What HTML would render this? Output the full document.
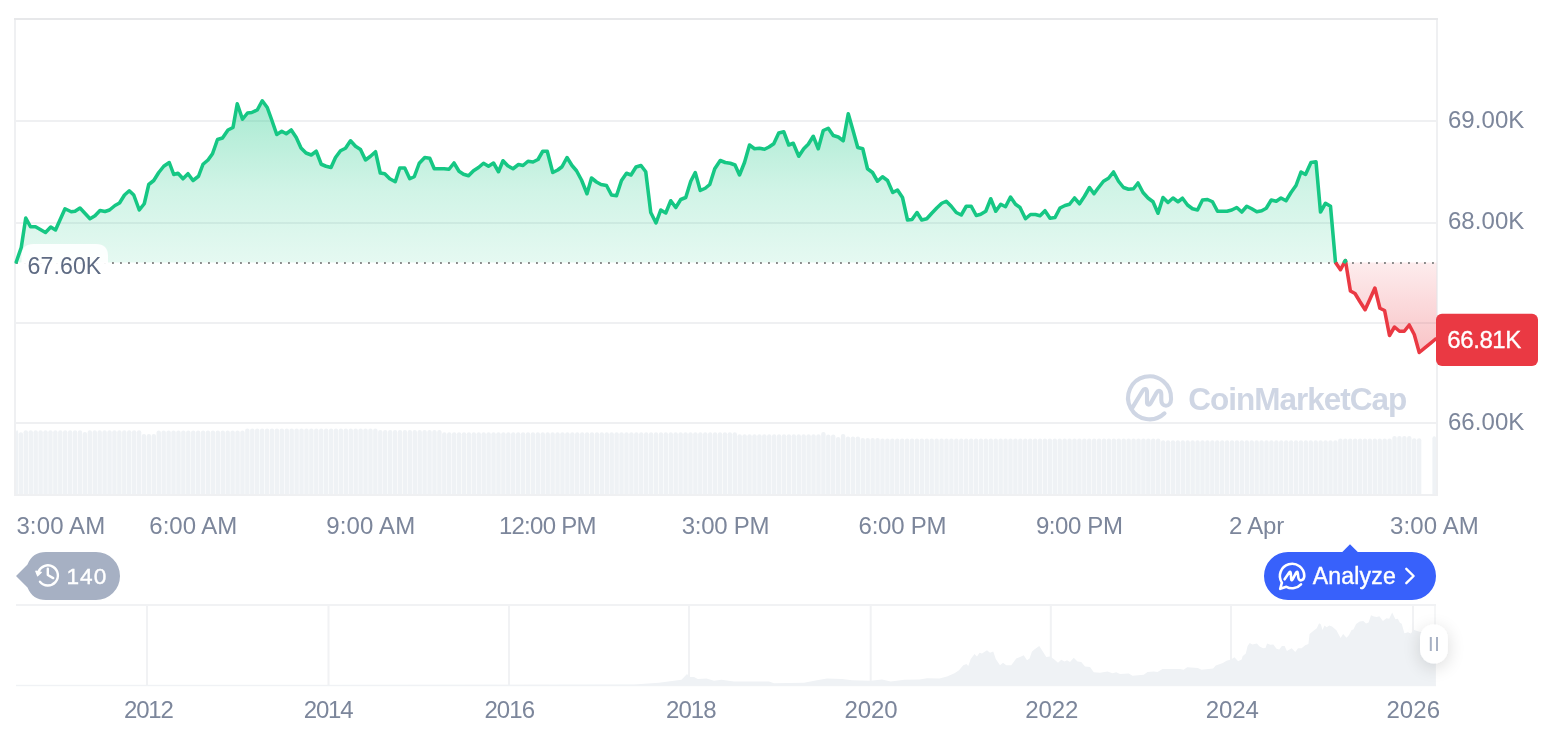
<!DOCTYPE html>
<html lang="en"><head><meta charset="utf-8"><title>BTC price chart</title>
<style>
html,body{margin:0;padding:0;background:#fff;}
body{width:1566px;height:732px;overflow:hidden;position:relative;font-family:"Liberation Sans",Arial,sans-serif;}
svg{position:absolute;left:0;top:0;display:block}
</style></head><body>
<svg width="1566" height="732" viewBox="0 0 1566 732" font-family="Liberation Sans, Arial, sans-serif">
<defs>
<linearGradient id="gg" gradientUnits="userSpaceOnUse" x1="0" y1="100" x2="0" y2="262.5">
<stop offset="0" stop-color="#16C784" stop-opacity="0.375"/><stop offset="0.178" stop-color="#16C784" stop-opacity="0.318"/><stop offset="0.554" stop-color="#16C784" stop-opacity="0.20"/><stop offset="0.911" stop-color="#16C784" stop-opacity="0.129"/><stop offset="1" stop-color="#16C784" stop-opacity="0.112"/></linearGradient>
<linearGradient id="rg" gradientUnits="userSpaceOnUse" x1="0" y1="262.5" x2="0" y2="353">
<stop offset="0" stop-color="#EA3943" stop-opacity="0.095"/><stop offset="1" stop-color="#EA3943" stop-opacity="0.304"/></linearGradient>
<filter id="sh" x="-100%" y="-60%" width="300%" height="220%"><feGaussianBlur in="SourceAlpha" stdDeviation="9"/><feOffset dy="4"/><feComponentTransfer><feFuncA type="linear" slope="0.15"/></feComponentTransfer><feMerge><feMergeNode/><feMergeNode in="SourceGraphic"/></feMerge></filter>
</defs>
<!-- grid -->
<g fill="#EFF0F2">
<rect x="14" y="120" width="1424" height="2"/>
<rect x="14" y="222" width="1424" height="2"/>
<rect x="14" y="322" width="1424" height="2"/>
<rect x="14" y="422" width="1424" height="2"/>
<rect x="14" y="18" width="2" height="478"/>
<rect x="1436" y="18" width="2" height="478"/>
<rect x="14" y="494" width="1424" height="2"/>
</g>
<rect x="14" y="18" width="1424" height="2" fill="#E7E8EA"/>
<!-- volume -->
<g fill="#EFF2F5">
<path d="M16.00 494 V432.30 a1.09 2 0 0 1 1.09 -2 h0.00 a1.09 2 0 0 1 1.09 2 V494 Z"/>
<path d="M18.70 494 V434.20 a2.20 2 0 0 1 2.20 -2 h0.00 a2.20 2 0 0 1 2.20 2 V494 Z"/>
<path d="M23.62 494 V432.30 a2.20 2 0 0 1 2.20 -2 h0.00 a2.20 2 0 0 1 2.20 2 V494 Z"/>
<path d="M28.55 494 V432.30 a2.20 2 0 0 1 2.20 -2 h0.00 a2.20 2 0 0 1 2.20 2 V494 Z"/>
<path d="M33.47 494 V432.30 a2.20 2 0 0 1 2.20 -2 h0.00 a2.20 2 0 0 1 2.20 2 V494 Z"/>
<path d="M38.39 494 V432.30 a2.20 2 0 0 1 2.20 -2 h0.00 a2.20 2 0 0 1 2.20 2 V494 Z"/>
<path d="M43.32 494 V432.30 a2.20 2 0 0 1 2.20 -2 h0.00 a2.20 2 0 0 1 2.20 2 V494 Z"/>
<path d="M48.24 494 V432.30 a2.20 2 0 0 1 2.20 -2 h0.00 a2.20 2 0 0 1 2.20 2 V494 Z"/>
<path d="M53.16 494 V432.30 a2.20 2 0 0 1 2.20 -2 h0.00 a2.20 2 0 0 1 2.20 2 V494 Z"/>
<path d="M58.09 494 V432.30 a2.20 2 0 0 1 2.20 -2 h0.00 a2.20 2 0 0 1 2.20 2 V494 Z"/>
<path d="M63.01 494 V432.30 a2.20 2 0 0 1 2.20 -2 h0.00 a2.20 2 0 0 1 2.20 2 V494 Z"/>
<path d="M67.93 494 V432.30 a2.20 2 0 0 1 2.20 -2 h0.00 a2.20 2 0 0 1 2.20 2 V494 Z"/>
<path d="M72.86 494 V432.30 a2.20 2 0 0 1 2.20 -2 h0.00 a2.20 2 0 0 1 2.20 2 V494 Z"/>
<path d="M77.78 494 V432.30 a2.20 2 0 0 1 2.20 -2 h0.00 a2.20 2 0 0 1 2.20 2 V494 Z"/>
<path d="M82.70 494 V434.00 a2.20 2 0 0 1 2.20 -2 h0.00 a2.20 2 0 0 1 2.20 2 V494 Z"/>
<path d="M87.63 494 V432.30 a2.20 2 0 0 1 2.20 -2 h0.00 a2.20 2 0 0 1 2.20 2 V494 Z"/>
<path d="M92.55 494 V432.30 a2.20 2 0 0 1 2.20 -2 h0.00 a2.20 2 0 0 1 2.20 2 V494 Z"/>
<path d="M97.47 494 V432.30 a2.20 2 0 0 1 2.20 -2 h0.00 a2.20 2 0 0 1 2.20 2 V494 Z"/>
<path d="M102.40 494 V432.30 a2.20 2 0 0 1 2.20 -2 h0.00 a2.20 2 0 0 1 2.20 2 V494 Z"/>
<path d="M107.32 494 V432.30 a2.20 2 0 0 1 2.20 -2 h0.00 a2.20 2 0 0 1 2.20 2 V494 Z"/>
<path d="M112.24 494 V432.30 a2.20 2 0 0 1 2.20 -2 h0.00 a2.20 2 0 0 1 2.20 2 V494 Z"/>
<path d="M117.17 494 V432.30 a2.20 2 0 0 1 2.20 -2 h0.00 a2.20 2 0 0 1 2.20 2 V494 Z"/>
<path d="M122.09 494 V432.30 a2.20 2 0 0 1 2.20 -2 h0.00 a2.20 2 0 0 1 2.20 2 V494 Z"/>
<path d="M127.01 494 V432.30 a2.20 2 0 0 1 2.20 -2 h0.00 a2.20 2 0 0 1 2.20 2 V494 Z"/>
<path d="M131.94 494 V432.30 a2.20 2 0 0 1 2.20 -2 h0.00 a2.20 2 0 0 1 2.20 2 V494 Z"/>
<path d="M136.86 494 V432.30 a2.20 2 0 0 1 2.20 -2 h0.00 a2.20 2 0 0 1 2.20 2 V494 Z"/>
<path d="M141.78 494 V436.00 a2.20 2 0 0 1 2.20 -2 h0.00 a2.20 2 0 0 1 2.20 2 V494 Z"/>
<path d="M146.71 494 V436.00 a2.20 2 0 0 1 2.20 -2 h0.00 a2.20 2 0 0 1 2.20 2 V494 Z"/>
<path d="M151.63 494 V436.00 a2.20 2 0 0 1 2.20 -2 h0.00 a2.20 2 0 0 1 2.20 2 V494 Z"/>
<path d="M156.55 494 V432.50 a2.20 2 0 0 1 2.20 -2 h0.00 a2.20 2 0 0 1 2.20 2 V494 Z"/>
<path d="M161.48 494 V432.50 a2.20 2 0 0 1 2.20 -2 h0.00 a2.20 2 0 0 1 2.20 2 V494 Z"/>
<path d="M166.40 494 V432.50 a2.20 2 0 0 1 2.20 -2 h0.00 a2.20 2 0 0 1 2.20 2 V494 Z"/>
<path d="M171.32 494 V432.50 a2.20 2 0 0 1 2.20 -2 h0.00 a2.20 2 0 0 1 2.20 2 V494 Z"/>
<path d="M176.25 494 V432.50 a2.20 2 0 0 1 2.20 -2 h0.00 a2.20 2 0 0 1 2.20 2 V494 Z"/>
<path d="M181.17 494 V432.50 a2.20 2 0 0 1 2.20 -2 h0.00 a2.20 2 0 0 1 2.20 2 V494 Z"/>
<path d="M186.09 494 V432.50 a2.20 2 0 0 1 2.20 -2 h0.00 a2.20 2 0 0 1 2.20 2 V494 Z"/>
<path d="M191.02 494 V432.50 a2.20 2 0 0 1 2.20 -2 h0.00 a2.20 2 0 0 1 2.20 2 V494 Z"/>
<path d="M195.94 494 V432.50 a2.20 2 0 0 1 2.20 -2 h0.00 a2.20 2 0 0 1 2.20 2 V494 Z"/>
<path d="M200.86 494 V432.50 a2.20 2 0 0 1 2.20 -2 h0.00 a2.20 2 0 0 1 2.20 2 V494 Z"/>
<path d="M205.79 494 V432.50 a2.20 2 0 0 1 2.20 -2 h0.00 a2.20 2 0 0 1 2.20 2 V494 Z"/>
<path d="M210.71 494 V432.50 a2.20 2 0 0 1 2.20 -2 h0.00 a2.20 2 0 0 1 2.20 2 V494 Z"/>
<path d="M215.63 494 V432.50 a2.20 2 0 0 1 2.20 -2 h0.00 a2.20 2 0 0 1 2.20 2 V494 Z"/>
<path d="M220.56 494 V432.50 a2.20 2 0 0 1 2.20 -2 h0.00 a2.20 2 0 0 1 2.20 2 V494 Z"/>
<path d="M225.48 494 V432.50 a2.20 2 0 0 1 2.20 -2 h0.00 a2.20 2 0 0 1 2.20 2 V494 Z"/>
<path d="M230.40 494 V432.50 a2.20 2 0 0 1 2.20 -2 h0.00 a2.20 2 0 0 1 2.20 2 V494 Z"/>
<path d="M235.33 494 V432.50 a2.20 2 0 0 1 2.20 -2 h0.00 a2.20 2 0 0 1 2.20 2 V494 Z"/>
<path d="M240.25 494 V432.50 a2.20 2 0 0 1 2.20 -2 h0.00 a2.20 2 0 0 1 2.20 2 V494 Z"/>
<path d="M245.17 494 V430.60 a2.20 2 0 0 1 2.20 -2 h0.00 a2.20 2 0 0 1 2.20 2 V494 Z"/>
<path d="M250.10 494 V430.60 a2.20 2 0 0 1 2.20 -2 h0.00 a2.20 2 0 0 1 2.20 2 V494 Z"/>
<path d="M255.02 494 V430.60 a2.20 2 0 0 1 2.20 -2 h0.00 a2.20 2 0 0 1 2.20 2 V494 Z"/>
<path d="M259.94 494 V430.60 a2.20 2 0 0 1 2.20 -2 h0.00 a2.20 2 0 0 1 2.20 2 V494 Z"/>
<path d="M264.87 494 V430.60 a2.20 2 0 0 1 2.20 -2 h0.00 a2.20 2 0 0 1 2.20 2 V494 Z"/>
<path d="M269.79 494 V430.60 a2.20 2 0 0 1 2.20 -2 h0.00 a2.20 2 0 0 1 2.20 2 V494 Z"/>
<path d="M274.71 494 V430.60 a2.20 2 0 0 1 2.20 -2 h0.00 a2.20 2 0 0 1 2.20 2 V494 Z"/>
<path d="M279.63 494 V430.60 a2.20 2 0 0 1 2.20 -2 h0.00 a2.20 2 0 0 1 2.20 2 V494 Z"/>
<path d="M284.56 494 V430.60 a2.20 2 0 0 1 2.20 -2 h0.00 a2.20 2 0 0 1 2.20 2 V494 Z"/>
<path d="M289.48 494 V430.60 a2.20 2 0 0 1 2.20 -2 h0.00 a2.20 2 0 0 1 2.20 2 V494 Z"/>
<path d="M294.40 494 V430.60 a2.20 2 0 0 1 2.20 -2 h0.00 a2.20 2 0 0 1 2.20 2 V494 Z"/>
<path d="M299.33 494 V430.60 a2.20 2 0 0 1 2.20 -2 h0.00 a2.20 2 0 0 1 2.20 2 V494 Z"/>
<path d="M304.25 494 V430.60 a2.20 2 0 0 1 2.20 -2 h0.00 a2.20 2 0 0 1 2.20 2 V494 Z"/>
<path d="M309.17 494 V430.60 a2.20 2 0 0 1 2.20 -2 h0.00 a2.20 2 0 0 1 2.20 2 V494 Z"/>
<path d="M314.10 494 V430.60 a2.20 2 0 0 1 2.20 -2 h0.00 a2.20 2 0 0 1 2.20 2 V494 Z"/>
<path d="M319.02 494 V430.60 a2.20 2 0 0 1 2.20 -2 h0.00 a2.20 2 0 0 1 2.20 2 V494 Z"/>
<path d="M323.94 494 V430.60 a2.20 2 0 0 1 2.20 -2 h0.00 a2.20 2 0 0 1 2.20 2 V494 Z"/>
<path d="M328.87 494 V430.60 a2.20 2 0 0 1 2.20 -2 h0.00 a2.20 2 0 0 1 2.20 2 V494 Z"/>
<path d="M333.79 494 V430.60 a2.20 2 0 0 1 2.20 -2 h0.00 a2.20 2 0 0 1 2.20 2 V494 Z"/>
<path d="M338.71 494 V430.60 a2.20 2 0 0 1 2.20 -2 h0.00 a2.20 2 0 0 1 2.20 2 V494 Z"/>
<path d="M343.64 494 V430.60 a2.20 2 0 0 1 2.20 -2 h0.00 a2.20 2 0 0 1 2.20 2 V494 Z"/>
<path d="M348.56 494 V430.60 a2.20 2 0 0 1 2.20 -2 h0.00 a2.20 2 0 0 1 2.20 2 V494 Z"/>
<path d="M353.48 494 V430.60 a2.20 2 0 0 1 2.20 -2 h0.00 a2.20 2 0 0 1 2.20 2 V494 Z"/>
<path d="M358.41 494 V430.60 a2.20 2 0 0 1 2.20 -2 h0.00 a2.20 2 0 0 1 2.20 2 V494 Z"/>
<path d="M363.33 494 V430.60 a2.20 2 0 0 1 2.20 -2 h0.00 a2.20 2 0 0 1 2.20 2 V494 Z"/>
<path d="M368.25 494 V430.60 a2.20 2 0 0 1 2.20 -2 h0.00 a2.20 2 0 0 1 2.20 2 V494 Z"/>
<path d="M373.18 494 V430.60 a2.20 2 0 0 1 2.20 -2 h0.00 a2.20 2 0 0 1 2.20 2 V494 Z"/>
<path d="M378.10 494 V432.00 a2.20 2 0 0 1 2.20 -2 h0.00 a2.20 2 0 0 1 2.20 2 V494 Z"/>
<path d="M383.02 494 V432.00 a2.20 2 0 0 1 2.20 -2 h0.00 a2.20 2 0 0 1 2.20 2 V494 Z"/>
<path d="M387.95 494 V432.00 a2.20 2 0 0 1 2.20 -2 h0.00 a2.20 2 0 0 1 2.20 2 V494 Z"/>
<path d="M392.87 494 V432.00 a2.20 2 0 0 1 2.20 -2 h0.00 a2.20 2 0 0 1 2.20 2 V494 Z"/>
<path d="M397.79 494 V432.00 a2.20 2 0 0 1 2.20 -2 h0.00 a2.20 2 0 0 1 2.20 2 V494 Z"/>
<path d="M402.72 494 V432.00 a2.20 2 0 0 1 2.20 -2 h0.00 a2.20 2 0 0 1 2.20 2 V494 Z"/>
<path d="M407.64 494 V432.00 a2.20 2 0 0 1 2.20 -2 h0.00 a2.20 2 0 0 1 2.20 2 V494 Z"/>
<path d="M412.56 494 V432.00 a2.20 2 0 0 1 2.20 -2 h0.00 a2.20 2 0 0 1 2.20 2 V494 Z"/>
<path d="M417.49 494 V432.00 a2.20 2 0 0 1 2.20 -2 h0.00 a2.20 2 0 0 1 2.20 2 V494 Z"/>
<path d="M422.41 494 V432.00 a2.20 2 0 0 1 2.20 -2 h0.00 a2.20 2 0 0 1 2.20 2 V494 Z"/>
<path d="M427.33 494 V432.00 a2.20 2 0 0 1 2.20 -2 h0.00 a2.20 2 0 0 1 2.20 2 V494 Z"/>
<path d="M432.26 494 V432.00 a2.20 2 0 0 1 2.20 -2 h0.00 a2.20 2 0 0 1 2.20 2 V494 Z"/>
<path d="M437.18 494 V432.00 a2.20 2 0 0 1 2.20 -2 h0.00 a2.20 2 0 0 1 2.20 2 V494 Z"/>
<path d="M442.10 494 V434.20 a2.20 2 0 0 1 2.20 -2 h0.00 a2.20 2 0 0 1 2.20 2 V494 Z"/>
<path d="M447.03 494 V434.20 a2.20 2 0 0 1 2.20 -2 h0.00 a2.20 2 0 0 1 2.20 2 V494 Z"/>
<path d="M451.95 494 V434.20 a2.20 2 0 0 1 2.20 -2 h0.00 a2.20 2 0 0 1 2.20 2 V494 Z"/>
<path d="M456.87 494 V434.20 a2.20 2 0 0 1 2.20 -2 h0.00 a2.20 2 0 0 1 2.20 2 V494 Z"/>
<path d="M461.80 494 V434.20 a2.20 2 0 0 1 2.20 -2 h0.00 a2.20 2 0 0 1 2.20 2 V494 Z"/>
<path d="M466.72 494 V434.20 a2.20 2 0 0 1 2.20 -2 h0.00 a2.20 2 0 0 1 2.20 2 V494 Z"/>
<path d="M471.64 494 V434.20 a2.20 2 0 0 1 2.20 -2 h0.00 a2.20 2 0 0 1 2.20 2 V494 Z"/>
<path d="M476.57 494 V434.20 a2.20 2 0 0 1 2.20 -2 h0.00 a2.20 2 0 0 1 2.20 2 V494 Z"/>
<path d="M481.49 494 V434.20 a2.20 2 0 0 1 2.20 -2 h0.00 a2.20 2 0 0 1 2.20 2 V494 Z"/>
<path d="M486.41 494 V434.20 a2.20 2 0 0 1 2.20 -2 h0.00 a2.20 2 0 0 1 2.20 2 V494 Z"/>
<path d="M491.34 494 V434.20 a2.20 2 0 0 1 2.20 -2 h0.00 a2.20 2 0 0 1 2.20 2 V494 Z"/>
<path d="M496.26 494 V434.20 a2.20 2 0 0 1 2.20 -2 h0.00 a2.20 2 0 0 1 2.20 2 V494 Z"/>
<path d="M501.18 494 V434.20 a2.20 2 0 0 1 2.20 -2 h0.00 a2.20 2 0 0 1 2.20 2 V494 Z"/>
<path d="M506.11 494 V434.20 a2.20 2 0 0 1 2.20 -2 h0.00 a2.20 2 0 0 1 2.20 2 V494 Z"/>
<path d="M511.03 494 V434.20 a2.20 2 0 0 1 2.20 -2 h0.00 a2.20 2 0 0 1 2.20 2 V494 Z"/>
<path d="M515.95 494 V434.20 a2.20 2 0 0 1 2.20 -2 h0.00 a2.20 2 0 0 1 2.20 2 V494 Z"/>
<path d="M520.88 494 V434.20 a2.20 2 0 0 1 2.20 -2 h0.00 a2.20 2 0 0 1 2.20 2 V494 Z"/>
<path d="M525.80 494 V434.20 a2.20 2 0 0 1 2.20 -2 h0.00 a2.20 2 0 0 1 2.20 2 V494 Z"/>
<path d="M530.72 494 V434.20 a2.20 2 0 0 1 2.20 -2 h0.00 a2.20 2 0 0 1 2.20 2 V494 Z"/>
<path d="M535.65 494 V434.20 a2.20 2 0 0 1 2.20 -2 h0.00 a2.20 2 0 0 1 2.20 2 V494 Z"/>
<path d="M540.57 494 V434.20 a2.20 2 0 0 1 2.20 -2 h0.00 a2.20 2 0 0 1 2.20 2 V494 Z"/>
<path d="M545.49 494 V434.20 a2.20 2 0 0 1 2.20 -2 h0.00 a2.20 2 0 0 1 2.20 2 V494 Z"/>
<path d="M550.42 494 V434.20 a2.20 2 0 0 1 2.20 -2 h0.00 a2.20 2 0 0 1 2.20 2 V494 Z"/>
<path d="M555.34 494 V434.20 a2.20 2 0 0 1 2.20 -2 h0.00 a2.20 2 0 0 1 2.20 2 V494 Z"/>
<path d="M560.26 494 V434.20 a2.20 2 0 0 1 2.20 -2 h0.00 a2.20 2 0 0 1 2.20 2 V494 Z"/>
<path d="M565.19 494 V434.20 a2.20 2 0 0 1 2.20 -2 h0.00 a2.20 2 0 0 1 2.20 2 V494 Z"/>
<path d="M570.11 494 V434.20 a2.20 2 0 0 1 2.20 -2 h0.00 a2.20 2 0 0 1 2.20 2 V494 Z"/>
<path d="M575.03 494 V434.20 a2.20 2 0 0 1 2.20 -2 h0.00 a2.20 2 0 0 1 2.20 2 V494 Z"/>
<path d="M579.96 494 V434.20 a2.20 2 0 0 1 2.20 -2 h0.00 a2.20 2 0 0 1 2.20 2 V494 Z"/>
<path d="M584.88 494 V434.20 a2.20 2 0 0 1 2.20 -2 h0.00 a2.20 2 0 0 1 2.20 2 V494 Z"/>
<path d="M589.80 494 V434.20 a2.20 2 0 0 1 2.20 -2 h0.00 a2.20 2 0 0 1 2.20 2 V494 Z"/>
<path d="M594.73 494 V434.20 a2.20 2 0 0 1 2.20 -2 h0.00 a2.20 2 0 0 1 2.20 2 V494 Z"/>
<path d="M599.65 494 V434.20 a2.20 2 0 0 1 2.20 -2 h0.00 a2.20 2 0 0 1 2.20 2 V494 Z"/>
<path d="M604.57 494 V434.20 a2.20 2 0 0 1 2.20 -2 h0.00 a2.20 2 0 0 1 2.20 2 V494 Z"/>
<path d="M609.50 494 V434.20 a2.20 2 0 0 1 2.20 -2 h0.00 a2.20 2 0 0 1 2.20 2 V494 Z"/>
<path d="M614.42 494 V434.20 a2.20 2 0 0 1 2.20 -2 h0.00 a2.20 2 0 0 1 2.20 2 V494 Z"/>
<path d="M619.34 494 V434.20 a2.20 2 0 0 1 2.20 -2 h0.00 a2.20 2 0 0 1 2.20 2 V494 Z"/>
<path d="M624.27 494 V434.20 a2.20 2 0 0 1 2.20 -2 h0.00 a2.20 2 0 0 1 2.20 2 V494 Z"/>
<path d="M629.19 494 V434.20 a2.20 2 0 0 1 2.20 -2 h0.00 a2.20 2 0 0 1 2.20 2 V494 Z"/>
<path d="M634.11 494 V434.20 a2.20 2 0 0 1 2.20 -2 h0.00 a2.20 2 0 0 1 2.20 2 V494 Z"/>
<path d="M639.04 494 V434.20 a2.20 2 0 0 1 2.20 -2 h0.00 a2.20 2 0 0 1 2.20 2 V494 Z"/>
<path d="M643.96 494 V434.20 a2.20 2 0 0 1 2.20 -2 h0.00 a2.20 2 0 0 1 2.20 2 V494 Z"/>
<path d="M648.88 494 V434.20 a2.20 2 0 0 1 2.20 -2 h0.00 a2.20 2 0 0 1 2.20 2 V494 Z"/>
<path d="M653.81 494 V434.20 a2.20 2 0 0 1 2.20 -2 h0.00 a2.20 2 0 0 1 2.20 2 V494 Z"/>
<path d="M658.73 494 V434.20 a2.20 2 0 0 1 2.20 -2 h0.00 a2.20 2 0 0 1 2.20 2 V494 Z"/>
<path d="M663.65 494 V434.20 a2.20 2 0 0 1 2.20 -2 h0.00 a2.20 2 0 0 1 2.20 2 V494 Z"/>
<path d="M668.58 494 V434.20 a2.20 2 0 0 1 2.20 -2 h0.00 a2.20 2 0 0 1 2.20 2 V494 Z"/>
<path d="M673.50 494 V434.20 a2.20 2 0 0 1 2.20 -2 h0.00 a2.20 2 0 0 1 2.20 2 V494 Z"/>
<path d="M678.42 494 V434.20 a2.20 2 0 0 1 2.20 -2 h0.00 a2.20 2 0 0 1 2.20 2 V494 Z"/>
<path d="M683.35 494 V434.20 a2.20 2 0 0 1 2.20 -2 h0.00 a2.20 2 0 0 1 2.20 2 V494 Z"/>
<path d="M688.27 494 V434.20 a2.20 2 0 0 1 2.20 -2 h0.00 a2.20 2 0 0 1 2.20 2 V494 Z"/>
<path d="M693.19 494 V434.20 a2.20 2 0 0 1 2.20 -2 h0.00 a2.20 2 0 0 1 2.20 2 V494 Z"/>
<path d="M698.12 494 V434.20 a2.20 2 0 0 1 2.20 -2 h0.00 a2.20 2 0 0 1 2.20 2 V494 Z"/>
<path d="M703.04 494 V434.20 a2.20 2 0 0 1 2.20 -2 h0.00 a2.20 2 0 0 1 2.20 2 V494 Z"/>
<path d="M707.96 494 V434.20 a2.20 2 0 0 1 2.20 -2 h0.00 a2.20 2 0 0 1 2.20 2 V494 Z"/>
<path d="M712.89 494 V434.20 a2.20 2 0 0 1 2.20 -2 h0.00 a2.20 2 0 0 1 2.20 2 V494 Z"/>
<path d="M717.81 494 V434.20 a2.20 2 0 0 1 2.20 -2 h0.00 a2.20 2 0 0 1 2.20 2 V494 Z"/>
<path d="M722.73 494 V434.20 a2.20 2 0 0 1 2.20 -2 h0.00 a2.20 2 0 0 1 2.20 2 V494 Z"/>
<path d="M727.66 494 V434.20 a2.20 2 0 0 1 2.20 -2 h0.00 a2.20 2 0 0 1 2.20 2 V494 Z"/>
<path d="M732.58 494 V434.20 a2.20 2 0 0 1 2.20 -2 h0.00 a2.20 2 0 0 1 2.20 2 V494 Z"/>
<path d="M737.50 494 V436.30 a2.20 2 0 0 1 2.20 -2 h0.00 a2.20 2 0 0 1 2.20 2 V494 Z"/>
<path d="M742.43 494 V436.30 a2.20 2 0 0 1 2.20 -2 h0.00 a2.20 2 0 0 1 2.20 2 V494 Z"/>
<path d="M747.35 494 V436.30 a2.20 2 0 0 1 2.20 -2 h0.00 a2.20 2 0 0 1 2.20 2 V494 Z"/>
<path d="M752.27 494 V436.30 a2.20 2 0 0 1 2.20 -2 h0.00 a2.20 2 0 0 1 2.20 2 V494 Z"/>
<path d="M757.20 494 V436.30 a2.20 2 0 0 1 2.20 -2 h0.00 a2.20 2 0 0 1 2.20 2 V494 Z"/>
<path d="M762.12 494 V436.30 a2.20 2 0 0 1 2.20 -2 h0.00 a2.20 2 0 0 1 2.20 2 V494 Z"/>
<path d="M767.04 494 V436.30 a2.20 2 0 0 1 2.20 -2 h0.00 a2.20 2 0 0 1 2.20 2 V494 Z"/>
<path d="M771.96 494 V436.30 a2.20 2 0 0 1 2.20 -2 h0.00 a2.20 2 0 0 1 2.20 2 V494 Z"/>
<path d="M776.89 494 V436.30 a2.20 2 0 0 1 2.20 -2 h0.00 a2.20 2 0 0 1 2.20 2 V494 Z"/>
<path d="M781.81 494 V436.30 a2.20 2 0 0 1 2.20 -2 h0.00 a2.20 2 0 0 1 2.20 2 V494 Z"/>
<path d="M786.73 494 V436.30 a2.20 2 0 0 1 2.20 -2 h0.00 a2.20 2 0 0 1 2.20 2 V494 Z"/>
<path d="M791.66 494 V436.30 a2.20 2 0 0 1 2.20 -2 h0.00 a2.20 2 0 0 1 2.20 2 V494 Z"/>
<path d="M796.58 494 V436.30 a2.20 2 0 0 1 2.20 -2 h0.00 a2.20 2 0 0 1 2.20 2 V494 Z"/>
<path d="M801.50 494 V436.30 a2.20 2 0 0 1 2.20 -2 h0.00 a2.20 2 0 0 1 2.20 2 V494 Z"/>
<path d="M806.43 494 V436.30 a2.20 2 0 0 1 2.20 -2 h0.00 a2.20 2 0 0 1 2.20 2 V494 Z"/>
<path d="M811.35 494 V436.30 a2.20 2 0 0 1 2.20 -2 h0.00 a2.20 2 0 0 1 2.20 2 V494 Z"/>
<path d="M816.27 494 V436.30 a2.20 2 0 0 1 2.20 -2 h0.00 a2.20 2 0 0 1 2.20 2 V494 Z"/>
<path d="M821.20 494 V434.00 a2.20 2 0 0 1 2.20 -2 h0.00 a2.20 2 0 0 1 2.20 2 V494 Z"/>
<path d="M826.12 494 V436.50 a2.20 2 0 0 1 2.20 -2 h0.00 a2.20 2 0 0 1 2.20 2 V494 Z"/>
<path d="M831.04 494 V436.50 a2.20 2 0 0 1 2.20 -2 h0.00 a2.20 2 0 0 1 2.20 2 V494 Z"/>
<path d="M835.97 494 V439.00 a2.20 2 0 0 1 2.20 -2 h0.00 a2.20 2 0 0 1 2.20 2 V494 Z"/>
<path d="M840.89 494 V436.00 a2.20 2 0 0 1 2.20 -2 h0.00 a2.20 2 0 0 1 2.20 2 V494 Z"/>
<path d="M845.81 494 V438.50 a2.20 2 0 0 1 2.20 -2 h0.00 a2.20 2 0 0 1 2.20 2 V494 Z"/>
<path d="M850.74 494 V438.50 a2.20 2 0 0 1 2.20 -2 h0.00 a2.20 2 0 0 1 2.20 2 V494 Z"/>
<path d="M855.66 494 V438.50 a2.20 2 0 0 1 2.20 -2 h0.00 a2.20 2 0 0 1 2.20 2 V494 Z"/>
<path d="M860.58 494 V440.00 a2.20 2 0 0 1 2.20 -2 h0.00 a2.20 2 0 0 1 2.20 2 V494 Z"/>
<path d="M865.51 494 V440.00 a2.20 2 0 0 1 2.20 -2 h0.00 a2.20 2 0 0 1 2.20 2 V494 Z"/>
<path d="M870.43 494 V440.00 a2.20 2 0 0 1 2.20 -2 h0.00 a2.20 2 0 0 1 2.20 2 V494 Z"/>
<path d="M875.35 494 V440.00 a2.20 2 0 0 1 2.20 -2 h0.00 a2.20 2 0 0 1 2.20 2 V494 Z"/>
<path d="M880.28 494 V440.60 a2.20 2 0 0 1 2.20 -2 h0.00 a2.20 2 0 0 1 2.20 2 V494 Z"/>
<path d="M885.20 494 V440.60 a2.20 2 0 0 1 2.20 -2 h0.00 a2.20 2 0 0 1 2.20 2 V494 Z"/>
<path d="M890.12 494 V440.60 a2.20 2 0 0 1 2.20 -2 h0.00 a2.20 2 0 0 1 2.20 2 V494 Z"/>
<path d="M895.05 494 V440.60 a2.20 2 0 0 1 2.20 -2 h0.00 a2.20 2 0 0 1 2.20 2 V494 Z"/>
<path d="M899.97 494 V440.60 a2.20 2 0 0 1 2.20 -2 h0.00 a2.20 2 0 0 1 2.20 2 V494 Z"/>
<path d="M904.89 494 V440.60 a2.20 2 0 0 1 2.20 -2 h0.00 a2.20 2 0 0 1 2.20 2 V494 Z"/>
<path d="M909.82 494 V440.60 a2.20 2 0 0 1 2.20 -2 h0.00 a2.20 2 0 0 1 2.20 2 V494 Z"/>
<path d="M914.74 494 V440.60 a2.20 2 0 0 1 2.20 -2 h0.00 a2.20 2 0 0 1 2.20 2 V494 Z"/>
<path d="M919.66 494 V440.60 a2.20 2 0 0 1 2.20 -2 h0.00 a2.20 2 0 0 1 2.20 2 V494 Z"/>
<path d="M924.59 494 V440.60 a2.20 2 0 0 1 2.20 -2 h0.00 a2.20 2 0 0 1 2.20 2 V494 Z"/>
<path d="M929.51 494 V440.60 a2.20 2 0 0 1 2.20 -2 h0.00 a2.20 2 0 0 1 2.20 2 V494 Z"/>
<path d="M934.43 494 V440.60 a2.20 2 0 0 1 2.20 -2 h0.00 a2.20 2 0 0 1 2.20 2 V494 Z"/>
<path d="M939.36 494 V440.60 a2.20 2 0 0 1 2.20 -2 h0.00 a2.20 2 0 0 1 2.20 2 V494 Z"/>
<path d="M944.28 494 V440.60 a2.20 2 0 0 1 2.20 -2 h0.00 a2.20 2 0 0 1 2.20 2 V494 Z"/>
<path d="M949.20 494 V440.60 a2.20 2 0 0 1 2.20 -2 h0.00 a2.20 2 0 0 1 2.20 2 V494 Z"/>
<path d="M954.13 494 V440.60 a2.20 2 0 0 1 2.20 -2 h0.00 a2.20 2 0 0 1 2.20 2 V494 Z"/>
<path d="M959.05 494 V440.60 a2.20 2 0 0 1 2.20 -2 h0.00 a2.20 2 0 0 1 2.20 2 V494 Z"/>
<path d="M963.97 494 V440.60 a2.20 2 0 0 1 2.20 -2 h0.00 a2.20 2 0 0 1 2.20 2 V494 Z"/>
<path d="M968.90 494 V440.60 a2.20 2 0 0 1 2.20 -2 h0.00 a2.20 2 0 0 1 2.20 2 V494 Z"/>
<path d="M973.82 494 V440.60 a2.20 2 0 0 1 2.20 -2 h0.00 a2.20 2 0 0 1 2.20 2 V494 Z"/>
<path d="M978.74 494 V440.60 a2.20 2 0 0 1 2.20 -2 h0.00 a2.20 2 0 0 1 2.20 2 V494 Z"/>
<path d="M983.67 494 V440.60 a2.20 2 0 0 1 2.20 -2 h0.00 a2.20 2 0 0 1 2.20 2 V494 Z"/>
<path d="M988.59 494 V440.60 a2.20 2 0 0 1 2.20 -2 h0.00 a2.20 2 0 0 1 2.20 2 V494 Z"/>
<path d="M993.51 494 V440.60 a2.20 2 0 0 1 2.20 -2 h0.00 a2.20 2 0 0 1 2.20 2 V494 Z"/>
<path d="M998.44 494 V440.60 a2.20 2 0 0 1 2.20 -2 h0.00 a2.20 2 0 0 1 2.20 2 V494 Z"/>
<path d="M1003.36 494 V440.60 a2.20 2 0 0 1 2.20 -2 h0.00 a2.20 2 0 0 1 2.20 2 V494 Z"/>
<path d="M1008.28 494 V440.60 a2.20 2 0 0 1 2.20 -2 h0.00 a2.20 2 0 0 1 2.20 2 V494 Z"/>
<path d="M1013.21 494 V440.60 a2.20 2 0 0 1 2.20 -2 h0.00 a2.20 2 0 0 1 2.20 2 V494 Z"/>
<path d="M1018.13 494 V440.60 a2.20 2 0 0 1 2.20 -2 h0.00 a2.20 2 0 0 1 2.20 2 V494 Z"/>
<path d="M1023.05 494 V440.60 a2.20 2 0 0 1 2.20 -2 h0.00 a2.20 2 0 0 1 2.20 2 V494 Z"/>
<path d="M1027.98 494 V440.60 a2.20 2 0 0 1 2.20 -2 h0.00 a2.20 2 0 0 1 2.20 2 V494 Z"/>
<path d="M1032.90 494 V440.60 a2.20 2 0 0 1 2.20 -2 h0.00 a2.20 2 0 0 1 2.20 2 V494 Z"/>
<path d="M1037.82 494 V440.60 a2.20 2 0 0 1 2.20 -2 h0.00 a2.20 2 0 0 1 2.20 2 V494 Z"/>
<path d="M1042.75 494 V440.60 a2.20 2 0 0 1 2.20 -2 h0.00 a2.20 2 0 0 1 2.20 2 V494 Z"/>
<path d="M1047.67 494 V440.60 a2.20 2 0 0 1 2.20 -2 h0.00 a2.20 2 0 0 1 2.20 2 V494 Z"/>
<path d="M1052.59 494 V440.60 a2.20 2 0 0 1 2.20 -2 h0.00 a2.20 2 0 0 1 2.20 2 V494 Z"/>
<path d="M1057.52 494 V440.60 a2.20 2 0 0 1 2.20 -2 h0.00 a2.20 2 0 0 1 2.20 2 V494 Z"/>
<path d="M1062.44 494 V440.60 a2.20 2 0 0 1 2.20 -2 h0.00 a2.20 2 0 0 1 2.20 2 V494 Z"/>
<path d="M1067.36 494 V440.60 a2.20 2 0 0 1 2.20 -2 h0.00 a2.20 2 0 0 1 2.20 2 V494 Z"/>
<path d="M1072.29 494 V440.60 a2.20 2 0 0 1 2.20 -2 h0.00 a2.20 2 0 0 1 2.20 2 V494 Z"/>
<path d="M1077.21 494 V440.60 a2.20 2 0 0 1 2.20 -2 h0.00 a2.20 2 0 0 1 2.20 2 V494 Z"/>
<path d="M1082.13 494 V440.60 a2.20 2 0 0 1 2.20 -2 h0.00 a2.20 2 0 0 1 2.20 2 V494 Z"/>
<path d="M1087.06 494 V440.60 a2.20 2 0 0 1 2.20 -2 h0.00 a2.20 2 0 0 1 2.20 2 V494 Z"/>
<path d="M1091.98 494 V440.60 a2.20 2 0 0 1 2.20 -2 h0.00 a2.20 2 0 0 1 2.20 2 V494 Z"/>
<path d="M1096.90 494 V440.60 a2.20 2 0 0 1 2.20 -2 h0.00 a2.20 2 0 0 1 2.20 2 V494 Z"/>
<path d="M1101.83 494 V440.60 a2.20 2 0 0 1 2.20 -2 h0.00 a2.20 2 0 0 1 2.20 2 V494 Z"/>
<path d="M1106.75 494 V440.60 a2.20 2 0 0 1 2.20 -2 h0.00 a2.20 2 0 0 1 2.20 2 V494 Z"/>
<path d="M1111.67 494 V440.60 a2.20 2 0 0 1 2.20 -2 h0.00 a2.20 2 0 0 1 2.20 2 V494 Z"/>
<path d="M1116.60 494 V440.60 a2.20 2 0 0 1 2.20 -2 h0.00 a2.20 2 0 0 1 2.20 2 V494 Z"/>
<path d="M1121.52 494 V440.60 a2.20 2 0 0 1 2.20 -2 h0.00 a2.20 2 0 0 1 2.20 2 V494 Z"/>
<path d="M1126.44 494 V440.60 a2.20 2 0 0 1 2.20 -2 h0.00 a2.20 2 0 0 1 2.20 2 V494 Z"/>
<path d="M1131.37 494 V440.60 a2.20 2 0 0 1 2.20 -2 h0.00 a2.20 2 0 0 1 2.20 2 V494 Z"/>
<path d="M1136.29 494 V440.60 a2.20 2 0 0 1 2.20 -2 h0.00 a2.20 2 0 0 1 2.20 2 V494 Z"/>
<path d="M1141.21 494 V440.60 a2.20 2 0 0 1 2.20 -2 h0.00 a2.20 2 0 0 1 2.20 2 V494 Z"/>
<path d="M1146.14 494 V440.60 a2.20 2 0 0 1 2.20 -2 h0.00 a2.20 2 0 0 1 2.20 2 V494 Z"/>
<path d="M1151.06 494 V440.60 a2.20 2 0 0 1 2.20 -2 h0.00 a2.20 2 0 0 1 2.20 2 V494 Z"/>
<path d="M1155.98 494 V440.60 a2.20 2 0 0 1 2.20 -2 h0.00 a2.20 2 0 0 1 2.20 2 V494 Z"/>
<path d="M1160.91 494 V442.30 a2.20 2 0 0 1 2.20 -2 h0.00 a2.20 2 0 0 1 2.20 2 V494 Z"/>
<path d="M1165.83 494 V442.30 a2.20 2 0 0 1 2.20 -2 h0.00 a2.20 2 0 0 1 2.20 2 V494 Z"/>
<path d="M1170.75 494 V442.30 a2.20 2 0 0 1 2.20 -2 h0.00 a2.20 2 0 0 1 2.20 2 V494 Z"/>
<path d="M1175.68 494 V442.30 a2.20 2 0 0 1 2.20 -2 h0.00 a2.20 2 0 0 1 2.20 2 V494 Z"/>
<path d="M1180.60 494 V442.30 a2.20 2 0 0 1 2.20 -2 h0.00 a2.20 2 0 0 1 2.20 2 V494 Z"/>
<path d="M1185.52 494 V442.30 a2.20 2 0 0 1 2.20 -2 h0.00 a2.20 2 0 0 1 2.20 2 V494 Z"/>
<path d="M1190.45 494 V442.30 a2.20 2 0 0 1 2.20 -2 h0.00 a2.20 2 0 0 1 2.20 2 V494 Z"/>
<path d="M1195.37 494 V442.30 a2.20 2 0 0 1 2.20 -2 h0.00 a2.20 2 0 0 1 2.20 2 V494 Z"/>
<path d="M1200.29 494 V442.30 a2.20 2 0 0 1 2.20 -2 h0.00 a2.20 2 0 0 1 2.20 2 V494 Z"/>
<path d="M1205.22 494 V442.30 a2.20 2 0 0 1 2.20 -2 h0.00 a2.20 2 0 0 1 2.20 2 V494 Z"/>
<path d="M1210.14 494 V442.30 a2.20 2 0 0 1 2.20 -2 h0.00 a2.20 2 0 0 1 2.20 2 V494 Z"/>
<path d="M1215.06 494 V442.30 a2.20 2 0 0 1 2.20 -2 h0.00 a2.20 2 0 0 1 2.20 2 V494 Z"/>
<path d="M1219.99 494 V442.30 a2.20 2 0 0 1 2.20 -2 h0.00 a2.20 2 0 0 1 2.20 2 V494 Z"/>
<path d="M1224.91 494 V442.30 a2.20 2 0 0 1 2.20 -2 h0.00 a2.20 2 0 0 1 2.20 2 V494 Z"/>
<path d="M1229.83 494 V442.30 a2.20 2 0 0 1 2.20 -2 h0.00 a2.20 2 0 0 1 2.20 2 V494 Z"/>
<path d="M1234.76 494 V442.30 a2.20 2 0 0 1 2.20 -2 h0.00 a2.20 2 0 0 1 2.20 2 V494 Z"/>
<path d="M1239.68 494 V442.30 a2.20 2 0 0 1 2.20 -2 h0.00 a2.20 2 0 0 1 2.20 2 V494 Z"/>
<path d="M1244.60 494 V442.30 a2.20 2 0 0 1 2.20 -2 h0.00 a2.20 2 0 0 1 2.20 2 V494 Z"/>
<path d="M1249.53 494 V442.30 a2.20 2 0 0 1 2.20 -2 h0.00 a2.20 2 0 0 1 2.20 2 V494 Z"/>
<path d="M1254.45 494 V442.30 a2.20 2 0 0 1 2.20 -2 h0.00 a2.20 2 0 0 1 2.20 2 V494 Z"/>
<path d="M1259.37 494 V442.30 a2.20 2 0 0 1 2.20 -2 h0.00 a2.20 2 0 0 1 2.20 2 V494 Z"/>
<path d="M1264.29 494 V442.30 a2.20 2 0 0 1 2.20 -2 h0.00 a2.20 2 0 0 1 2.20 2 V494 Z"/>
<path d="M1269.22 494 V442.30 a2.20 2 0 0 1 2.20 -2 h0.00 a2.20 2 0 0 1 2.20 2 V494 Z"/>
<path d="M1274.14 494 V442.30 a2.20 2 0 0 1 2.20 -2 h0.00 a2.20 2 0 0 1 2.20 2 V494 Z"/>
<path d="M1279.06 494 V442.30 a2.20 2 0 0 1 2.20 -2 h0.00 a2.20 2 0 0 1 2.20 2 V494 Z"/>
<path d="M1283.99 494 V442.30 a2.20 2 0 0 1 2.20 -2 h0.00 a2.20 2 0 0 1 2.20 2 V494 Z"/>
<path d="M1288.91 494 V442.30 a2.20 2 0 0 1 2.20 -2 h0.00 a2.20 2 0 0 1 2.20 2 V494 Z"/>
<path d="M1293.83 494 V442.30 a2.20 2 0 0 1 2.20 -2 h0.00 a2.20 2 0 0 1 2.20 2 V494 Z"/>
<path d="M1298.76 494 V442.30 a2.20 2 0 0 1 2.20 -2 h0.00 a2.20 2 0 0 1 2.20 2 V494 Z"/>
<path d="M1303.68 494 V442.30 a2.20 2 0 0 1 2.20 -2 h0.00 a2.20 2 0 0 1 2.20 2 V494 Z"/>
<path d="M1308.60 494 V442.30 a2.20 2 0 0 1 2.20 -2 h0.00 a2.20 2 0 0 1 2.20 2 V494 Z"/>
<path d="M1313.53 494 V442.30 a2.20 2 0 0 1 2.20 -2 h0.00 a2.20 2 0 0 1 2.20 2 V494 Z"/>
<path d="M1318.45 494 V442.30 a2.20 2 0 0 1 2.20 -2 h0.00 a2.20 2 0 0 1 2.20 2 V494 Z"/>
<path d="M1323.37 494 V442.30 a2.20 2 0 0 1 2.20 -2 h0.00 a2.20 2 0 0 1 2.20 2 V494 Z"/>
<path d="M1328.30 494 V442.30 a2.20 2 0 0 1 2.20 -2 h0.00 a2.20 2 0 0 1 2.20 2 V494 Z"/>
<path d="M1333.22 494 V442.30 a2.20 2 0 0 1 2.20 -2 h0.00 a2.20 2 0 0 1 2.20 2 V494 Z"/>
<path d="M1338.14 494 V440.60 a2.20 2 0 0 1 2.20 -2 h0.00 a2.20 2 0 0 1 2.20 2 V494 Z"/>
<path d="M1343.07 494 V440.60 a2.20 2 0 0 1 2.20 -2 h0.00 a2.20 2 0 0 1 2.20 2 V494 Z"/>
<path d="M1347.99 494 V440.60 a2.20 2 0 0 1 2.20 -2 h0.00 a2.20 2 0 0 1 2.20 2 V494 Z"/>
<path d="M1352.91 494 V440.60 a2.20 2 0 0 1 2.20 -2 h0.00 a2.20 2 0 0 1 2.20 2 V494 Z"/>
<path d="M1357.84 494 V440.60 a2.20 2 0 0 1 2.20 -2 h0.00 a2.20 2 0 0 1 2.20 2 V494 Z"/>
<path d="M1362.76 494 V440.60 a2.20 2 0 0 1 2.20 -2 h0.00 a2.20 2 0 0 1 2.20 2 V494 Z"/>
<path d="M1367.68 494 V440.60 a2.20 2 0 0 1 2.20 -2 h0.00 a2.20 2 0 0 1 2.20 2 V494 Z"/>
<path d="M1372.61 494 V440.60 a2.20 2 0 0 1 2.20 -2 h0.00 a2.20 2 0 0 1 2.20 2 V494 Z"/>
<path d="M1377.53 494 V440.60 a2.20 2 0 0 1 2.20 -2 h0.00 a2.20 2 0 0 1 2.20 2 V494 Z"/>
<path d="M1382.45 494 V440.60 a2.20 2 0 0 1 2.20 -2 h0.00 a2.20 2 0 0 1 2.20 2 V494 Z"/>
<path d="M1387.38 494 V440.60 a2.20 2 0 0 1 2.20 -2 h0.00 a2.20 2 0 0 1 2.20 2 V494 Z"/>
<path d="M1392.30 494 V438.10 a2.20 2 0 0 1 2.20 -2 h0.00 a2.20 2 0 0 1 2.20 2 V494 Z"/>
<path d="M1397.22 494 V438.10 a2.20 2 0 0 1 2.20 -2 h0.00 a2.20 2 0 0 1 2.20 2 V494 Z"/>
<path d="M1402.15 494 V438.10 a2.20 2 0 0 1 2.20 -2 h0.00 a2.20 2 0 0 1 2.20 2 V494 Z"/>
<path d="M1407.07 494 V438.10 a2.20 2 0 0 1 2.20 -2 h0.00 a2.20 2 0 0 1 2.20 2 V494 Z"/>
<path d="M1411.99 494 V440.20 a2.20 2 0 0 1 2.20 -2 h0.00 a2.20 2 0 0 1 2.20 2 V494 Z"/>
<path d="M1416.92 494 V440.20 a2.20 2 0 0 1 2.20 -2 h0.00 a2.20 2 0 0 1 2.20 2 V494 Z"/>
<path d="M1432.40 494 V438.20 a1.85 2 0 0 1 1.85 -2 h0.00 a1.85 2 0 0 1 1.85 2 V494 Z"/>
</g>
<!-- watermark -->
<g fill="none" stroke="#CFD6E4" stroke-width="4.1" stroke-linecap="round" stroke-linejoin="round">
<path d="M1164.5 413.3 A21.5 21.5 0 1 1 1171.05 398.9 C1171 403.5 1168.6 405.7 1166 405.7 C1163 405.7 1161.3 403.2 1161.3 400 L1161.3 394.5 C1161.3 390.3 1158.3 389.8 1156.5 392.8 L1150.8 403 C1149.4 405.6 1147 405 1147 402 L1147 392.3 C1147 388.2 1144.2 388 1142.5 391 L1132.6 407.4"/>
</g>
<text x="1188.30" y="409.70" font-size="31.5" letter-spacing="-1.000" fill="#CFD6E4" font-weight="700">CoinMarketCap</text>
<!-- fills -->
<polygon points="16.25,262.00 21.25,247.50 25.75,218.00 30.50,226.75 35.50,226.75 45.50,232.50 50.75,227.00 55.50,230.00 65.00,208.75 71.25,211.75 75.00,211.25 80.00,208.00 90.00,218.75 95.00,215.75 100.00,210.50 105.00,211.50 109.50,210.00 115.00,205.50 119.50,203.00 124.50,195.00 129.25,190.75 133.75,195.00 139.25,210.00 144.25,203.75 148.75,184.50 153.75,180.50 158.75,172.50 163.75,166.25 169.25,162.50 173.75,174.50 178.00,173.25 183.00,178.75 188.00,173.75 193.00,180.50 198.50,176.25 203.00,164.25 208.00,160.00 212.50,153.75 217.50,139.50 222.50,138.00 228.00,130.00 233.00,127.50 237.25,103.75 242.50,119.25 247.50,113.00 251.75,112.50 257.25,110.00 262.25,100.75 267.25,107.50 271.75,120.00 276.75,134.50 281.75,131.25 286.25,133.75 291.25,130.00 296.25,137.50 301.00,148.00 306.00,153.00 311.25,155.00 316.25,151.25 321.25,164.25 326.00,166.25 331.00,167.50 335.50,157.50 340.50,150.75 345.50,148.25 350.50,140.75 355.50,146.25 360.50,149.50 365.50,160.00 370.50,156.25 375.50,151.75 380.25,173.00 384.75,173.75 389.75,178.75 395.25,181.75 399.75,168.00 404.75,168.00 409.75,178.75 414.25,176.75 419.25,163.25 424.75,157.50 429.75,158.25 434.25,168.75 439.25,168.75 444.00,168.75 449.00,169.25 454.00,163.00 459.00,171.25 463.50,174.25 468.50,175.75 473.50,170.75 478.50,167.50 483.50,163.25 488.50,166.25 493.50,163.00 498.50,171.75 503.00,160.75 507.75,165.75 513.00,168.75 518.50,164.50 523.00,165.50 528.00,161.25 533.00,162.00 538.00,159.50 542.75,151.25 547.25,151.25 552.75,172.50 557.75,170.00 562.00,166.75 567.00,157.50 572.00,165.50 576.50,170.75 581.50,180.00 587.00,193.75 591.50,178.00 596.50,182.00 601.00,184.50 606.50,185.50 611.50,195.00 616.50,195.75 621.50,180.50 626.50,173.25 631.00,175.00 636.00,167.00 641.00,165.50 645.75,171.75 650.75,212.50 656.00,223.00 660.75,210.00 665.75,213.00 670.75,200.75 675.75,207.50 680.75,199.50 685.75,197.50 690.75,181.25 695.25,172.50 700.25,190.50 705.25,188.25 709.75,184.50 714.75,168.75 720.25,160.50 725.25,162.50 730.25,163.25 735.00,165.00 739.50,175.00 744.50,162.50 749.50,145.00 754.50,148.75 759.50,148.25 764.50,149.25 769.00,147.00 773.75,143.75 778.75,133.00 783.75,131.75 788.75,145.00 793.25,143.25 798.75,156.25 803.75,148.75 808.25,144.25 813.25,136.25 818.25,148.75 823.25,130.50 828.25,128.25 833.25,135.50 838.25,137.00 843.25,140.75 848.25,113.75 853.25,131.25 857.75,147.50 862.75,148.75 867.50,168.75 872.50,172.50 877.50,181.25 882.50,176.75 887.50,180.50 892.75,192.50 897.50,190.00 902.50,197.50 907.50,220.00 912.00,219.50 917.00,212.50 921.75,220.00 926.75,218.75 931.75,213.25 936.75,208.00 941.75,203.25 946.25,201.25 951.25,206.25 956.25,212.50 961.25,215.00 966.25,206.25 971.25,206.25 976.25,215.50 980.75,214.25 985.75,211.25 990.75,198.75 995.75,211.25 1000.75,204.25 1005.50,206.75 1010.50,197.00 1015.50,204.25 1020.00,207.50 1025.50,218.75 1030.50,214.50 1035.50,214.50 1040.00,215.75 1045.00,210.75 1050.00,218.25 1055.00,217.50 1060.00,208.00 1065.00,205.50 1069.50,204.25 1074.50,198.00 1079.50,203.75 1084.50,196.25 1089.50,187.50 1094.00,193.75 1098.00,188.25 1103.50,181.25 1108.50,178.25 1113.50,172.00 1118.50,181.25 1123.50,187.50 1128.50,189.25 1133.50,188.75 1138.00,183.00 1143.00,192.50 1148.00,198.00 1153.00,201.75 1158.00,213.25 1163.00,197.50 1168.00,202.50 1173.00,198.00 1178.00,201.75 1182.50,198.25 1187.50,205.00 1192.50,208.75 1197.50,210.00 1202.50,200.00 1207.50,199.50 1212.50,201.75 1217.50,211.25 1222.50,211.25 1227.00,211.25 1231.75,210.00 1236.75,207.50 1241.75,212.00 1246.75,206.25 1251.75,208.75 1256.75,211.75 1261.75,210.75 1266.25,208.25 1271.25,200.00 1276.25,201.25 1281.00,198.00 1286.00,200.75 1291.00,192.50 1296.00,185.50 1301.00,172.00 1305.50,174.50 1311.00,162.50 1316.00,161.75 1320.50,212.00 1325.50,203.25 1330.50,206.25 1335.50,262.50 1335.5,262.5 16.25,262.5" fill="url(#gg)"/>
<polygon points="1335.50,262.50 1340.50,269.75 1345.40,260.50 1350.40,291.00 1355.00,293.50 1360.00,301.75 1365.10,309.75 1370.00,299.00 1374.90,288.00 1379.90,308.25 1384.60,310.50 1389.50,335.50 1394.50,327.00 1399.50,331.25 1404.25,331.25 1409.25,325.00 1414.25,334.50 1419.25,352.50 1424.50,348.20 1429.75,343.90 1435.00,339.50 1436.50,338.50 1436.5,262.5 1335.5,262.5" fill="url(#rg)"/>
<!-- baseline dotted -->
<line x1="16" y1="263" x2="1436" y2="263" stroke="#8b8b8b" stroke-width="1.9" stroke-dasharray="1.9 6.1"/>
<!-- start price label box -->
<path d="M21.5 263.0 V256 Q21.5 244 33.5 244 H96 Q108 244 108 256 V263.0 Z" fill="#ffffff" fill-opacity="0.9"/>
<rect x="21.5" y="262.0" width="86.5" height="18" fill="#fff" fill-opacity="0.92"/>
<!-- lines -->
<polyline points="16.25,262.00 21.25,247.50 25.75,218.00 30.50,226.75 35.50,226.75 45.50,232.50 50.75,227.00 55.50,230.00 65.00,208.75 71.25,211.75 75.00,211.25 80.00,208.00 90.00,218.75 95.00,215.75 100.00,210.50 105.00,211.50 109.50,210.00 115.00,205.50 119.50,203.00 124.50,195.00 129.25,190.75 133.75,195.00 139.25,210.00 144.25,203.75 148.75,184.50 153.75,180.50 158.75,172.50 163.75,166.25 169.25,162.50 173.75,174.50 178.00,173.25 183.00,178.75 188.00,173.75 193.00,180.50 198.50,176.25 203.00,164.25 208.00,160.00 212.50,153.75 217.50,139.50 222.50,138.00 228.00,130.00 233.00,127.50 237.25,103.75 242.50,119.25 247.50,113.00 251.75,112.50 257.25,110.00 262.25,100.75 267.25,107.50 271.75,120.00 276.75,134.50 281.75,131.25 286.25,133.75 291.25,130.00 296.25,137.50 301.00,148.00 306.00,153.00 311.25,155.00 316.25,151.25 321.25,164.25 326.00,166.25 331.00,167.50 335.50,157.50 340.50,150.75 345.50,148.25 350.50,140.75 355.50,146.25 360.50,149.50 365.50,160.00 370.50,156.25 375.50,151.75 380.25,173.00 384.75,173.75 389.75,178.75 395.25,181.75 399.75,168.00 404.75,168.00 409.75,178.75 414.25,176.75 419.25,163.25 424.75,157.50 429.75,158.25 434.25,168.75 439.25,168.75 444.00,168.75 449.00,169.25 454.00,163.00 459.00,171.25 463.50,174.25 468.50,175.75 473.50,170.75 478.50,167.50 483.50,163.25 488.50,166.25 493.50,163.00 498.50,171.75 503.00,160.75 507.75,165.75 513.00,168.75 518.50,164.50 523.00,165.50 528.00,161.25 533.00,162.00 538.00,159.50 542.75,151.25 547.25,151.25 552.75,172.50 557.75,170.00 562.00,166.75 567.00,157.50 572.00,165.50 576.50,170.75 581.50,180.00 587.00,193.75 591.50,178.00 596.50,182.00 601.00,184.50 606.50,185.50 611.50,195.00 616.50,195.75 621.50,180.50 626.50,173.25 631.00,175.00 636.00,167.00 641.00,165.50 645.75,171.75 650.75,212.50 656.00,223.00 660.75,210.00 665.75,213.00 670.75,200.75 675.75,207.50 680.75,199.50 685.75,197.50 690.75,181.25 695.25,172.50 700.25,190.50 705.25,188.25 709.75,184.50 714.75,168.75 720.25,160.50 725.25,162.50 730.25,163.25 735.00,165.00 739.50,175.00 744.50,162.50 749.50,145.00 754.50,148.75 759.50,148.25 764.50,149.25 769.00,147.00 773.75,143.75 778.75,133.00 783.75,131.75 788.75,145.00 793.25,143.25 798.75,156.25 803.75,148.75 808.25,144.25 813.25,136.25 818.25,148.75 823.25,130.50 828.25,128.25 833.25,135.50 838.25,137.00 843.25,140.75 848.25,113.75 853.25,131.25 857.75,147.50 862.75,148.75 867.50,168.75 872.50,172.50 877.50,181.25 882.50,176.75 887.50,180.50 892.75,192.50 897.50,190.00 902.50,197.50 907.50,220.00 912.00,219.50 917.00,212.50 921.75,220.00 926.75,218.75 931.75,213.25 936.75,208.00 941.75,203.25 946.25,201.25 951.25,206.25 956.25,212.50 961.25,215.00 966.25,206.25 971.25,206.25 976.25,215.50 980.75,214.25 985.75,211.25 990.75,198.75 995.75,211.25 1000.75,204.25 1005.50,206.75 1010.50,197.00 1015.50,204.25 1020.00,207.50 1025.50,218.75 1030.50,214.50 1035.50,214.50 1040.00,215.75 1045.00,210.75 1050.00,218.25 1055.00,217.50 1060.00,208.00 1065.00,205.50 1069.50,204.25 1074.50,198.00 1079.50,203.75 1084.50,196.25 1089.50,187.50 1094.00,193.75 1098.00,188.25 1103.50,181.25 1108.50,178.25 1113.50,172.00 1118.50,181.25 1123.50,187.50 1128.50,189.25 1133.50,188.75 1138.00,183.00 1143.00,192.50 1148.00,198.00 1153.00,201.75 1158.00,213.25 1163.00,197.50 1168.00,202.50 1173.00,198.00 1178.00,201.75 1182.50,198.25 1187.50,205.00 1192.50,208.75 1197.50,210.00 1202.50,200.00 1207.50,199.50 1212.50,201.75 1217.50,211.25 1222.50,211.25 1227.00,211.25 1231.75,210.00 1236.75,207.50 1241.75,212.00 1246.75,206.25 1251.75,208.75 1256.75,211.75 1261.75,210.75 1266.25,208.25 1271.25,200.00 1276.25,201.25 1281.00,198.00 1286.00,200.75 1291.00,192.50 1296.00,185.50 1301.00,172.00 1305.50,174.50 1311.00,162.50 1316.00,161.75 1320.50,212.00 1325.50,203.25 1330.50,206.25 1335.50,262.50" fill="none" stroke="#16C784" stroke-width="3.55" stroke-linejoin="round" stroke-linecap="round"/>
<polyline points="1335.50,262.50 1340.50,269.75 1345.40,260.50 1350.40,291.00 1355.00,293.50 1360.00,301.75 1365.10,309.75 1370.00,299.00 1374.90,288.00 1379.90,308.25 1384.60,310.50 1389.50,335.50 1394.50,327.00 1399.50,331.25 1404.25,331.25 1409.25,325.00 1414.25,334.50 1419.25,352.50 1424.50,348.20 1429.75,343.90 1435.00,339.50 1436.50,338.50" fill="none" stroke="#EA3943" stroke-width="3.55" stroke-linejoin="round" stroke-linecap="butt"/>
<polyline points="1343.8,263.2 1345.4,260.5 1346,262.5" fill="none" stroke="#16C784" stroke-width="3.55" stroke-linejoin="round"/>
<text x="27.45" y="274.00" font-size="23.2" letter-spacing="0.080" fill="#5E6B83">67.60K</text>
<!-- y labels -->
<text x="1447.90" y="128.20" font-size="24" letter-spacing="0.080" fill="#7C869B">69.00K</text>
<text x="1447.90" y="229.40" font-size="24" letter-spacing="0.080" fill="#7C869B">68.00K</text>
<text x="1447.90" y="430.20" font-size="24" letter-spacing="0.080" fill="#7C869B">66.00K</text>
<!-- current price tag -->
<rect x="1436" y="313.8" width="102" height="52.2" rx="6" fill="#EA3943"/>
<text x="1447.25" y="348.40" font-size="24" letter-spacing="-0.400" fill="#fff" stroke="#fff" stroke-width="0.35">66.81K</text>
<!-- x labels -->
<g font-size="22.5" fill="#7C869B">
<text x="16.40" y="534.00" font-size="24" letter-spacing="0.133" fill="#7C869B">3:00 AM</text>
<text x="149.30" y="534.00" font-size="24" letter-spacing="-0.000" fill="#7C869B">6:00 AM</text>
<text x="326.30" y="534.00" font-size="24" letter-spacing="0.133" fill="#7C869B">9:00 AM</text>
<text x="498.90" y="534.00" font-size="24" letter-spacing="-0.743" fill="#7C869B">12:00 PM</text>
<text x="681.75" y="534.00" font-size="24" letter-spacing="-0.267" fill="#7C869B">3:00 PM</text>
<text x="858.60" y="534.00" font-size="24" letter-spacing="-0.267" fill="#7C869B">6:00 PM</text>
<text x="1035.90" y="534.00" font-size="24" letter-spacing="-0.400" fill="#7C869B">9:00 PM</text>
<text x="1229.00" y="534.00" font-size="24" letter-spacing="-0.200" fill="#7C869B">2 Apr</text>
<text x="1390.00" y="534.00" font-size="24" letter-spacing="0.133" fill="#7C869B">3:00 AM</text>
</g>
<!-- history badge -->
<path d="M16 576 L27.5 564.5 C31 556 37 552 46 552 H96 A24 24 0 0 1 96 600 H46 C37 600 31 596 27.5 587.5 Z" fill="#A6B0C3"/>
<g fill="none" stroke="#fff" stroke-width="2.4" stroke-linecap="round" stroke-linejoin="round">
<path d="M38.47 571.6 A10.1 10.1 0 1 1 39.95 581.8"/>
<path d="M35.8 571.2 L41.3 572.4 L37.6 575.8 Z" fill="#fff" stroke-width="1.2"/>
<path d="M47.8 568.7 V575 L53.2 578.1"/>
</g>
<text x="66.55" y="583.80" font-size="22.6" letter-spacing="1.000" fill="#fff" stroke="#fff" stroke-width="0.4">140</text>
<!-- analyze button -->
<path d="M1288 552 H1342.3 L1350 544.2 L1357.8 552 H1412 A24 24 0 0 1 1412 600 H1288 A24 24 0 0 1 1288 552 Z" fill="#3861FB"/>
<g fill="none" stroke="#fff" stroke-width="2.2" stroke-linecap="round" stroke-linejoin="round">
<path stroke-width="2.6" d="M1301 584.3 A12.2 12.2 0 0 1 1286.4 586.8 L1280.2 588.8 L1281.9 582.7 A12.2 12.2 0 1 1 1304.3 576.2 C1303.8 581.4 1298.8 581.6 1298.3 577.4 L1297.8 573.4 Q1297.4 570.6 1296 572.8 L1292.6 579.4 Q1291.4 581.4 1291.2 579 L1290.8 573.4 Q1290.6 570.6 1289.2 572.6 L1284.6 579.3"/>
<path d="M1406.3 568.8 L1413.6 576 L1406.3 583.2" stroke-width="2.4"/>
</g>
<text x="1312.70" y="583.90" font-size="23" letter-spacing="0.200" fill="#fff" stroke="#fff" stroke-width="0.4">Analyze</text>
<!-- navigator -->
<g fill="#F1F2F4">
<rect x="16" y="604" width="1420" height="2"/>
<rect x="146" y="604" width="2" height="82"/>
<rect x="327.5" y="604" width="2" height="82"/>
<rect x="508" y="604" width="2" height="82"/>
<rect x="688" y="604" width="2" height="82"/>
<rect x="869.7" y="604" width="2" height="82"/>
<rect x="1049.8" y="604" width="2" height="82"/>
<rect x="1230" y="604" width="2" height="82"/>
<rect x="1412" y="604" width="2" height="82"/>
<rect x="1434.3" y="604" width="1.4" height="82" fill="#F1F2F4"/>
<rect x="16" y="684.8" width="1420" height="1.4"/>
</g>
<polygon points="16,685.5 16.00,685.00 300.00,685.00 500.00,684.80 634.00,684.50 659.00,682.75 681.50,679.75 687.00,674.00 689.50,677.00 694.00,677.00 697.75,679.00 706.50,678.50 714.00,680.75 721.50,679.75 734.00,681.50 769.00,681.50 774.00,683.25 804.00,682.75 817.00,680.25 827.00,678.50 842.00,679.00 852.00,680.25 870.75,680.75 882.00,679.50 890.75,681.50 904.50,679.75 919.50,679.50 927.00,678.25 939.50,678.50 947.00,676.50 954.50,673.25 959.00,670.25 963.25,665.25 966.50,664.00 968.25,666.00 970.75,659.00 974.50,654.00 977.00,656.50 979.50,652.75 982.00,653.50 987.00,650.25 990.00,652.75 993.25,651.50 995.75,659.00 1000.00,665.25 1003.00,662.75 1006.25,665.25 1011.25,665.25 1016.25,658.50 1020.00,657.00 1023.75,655.25 1027.00,660.25 1029.50,658.50 1032.00,651.50 1035.00,649.00 1039.25,646.00 1042.50,651.00 1046.25,657.00 1050.00,656.50 1053.75,659.00 1058.00,662.75 1061.25,659.75 1064.50,661.50 1067.00,660.25 1070.00,662.00 1073.75,657.75 1077.50,661.50 1081.25,662.00 1085.00,666.50 1090.00,667.00 1093.75,672.25 1100.00,672.75 1107.50,671.50 1112.50,673.25 1116.25,672.25 1120.00,674.00 1128.75,673.50 1132.50,675.75 1143.75,674.75 1147.50,672.00 1153.75,671.50 1157.50,672.00 1162.50,669.00 1172.50,669.00 1180.00,669.00 1183.60,669.70 1187.20,667.20 1197.90,668.00 1201.50,669.70 1213.10,668.40 1215.80,665.40 1222.90,663.00 1226.50,660.70 1231.00,659.50 1234.50,657.30 1238.10,661.30 1241.70,659.50 1242.60,656.30 1245.80,653.60 1247.60,646.00 1249.70,643.00 1252.40,644.60 1256.90,643.40 1259.60,646.60 1263.10,648.20 1265.50,647.90 1267.10,643.40 1270.30,644.80 1273.30,644.60 1276.50,648.70 1279.20,649.60 1281.90,646.10 1284.60,646.10 1286.90,651.10 1291.70,648.20 1295.30,652.00 1298.00,648.20 1301.60,648.20 1305.20,645.20 1308.40,643.90 1309.60,633.90 1313.20,630.90 1316.80,628.20 1319.10,623.20 1320.90,624.60 1322.50,630.00 1324.50,625.50 1326.60,627.30 1329.30,625.50 1332.00,626.40 1336.40,630.30 1340.60,638.00 1343.10,634.10 1346.60,637.70 1349.00,635.00 1351.60,630.00 1353.40,629.40 1356.10,624.10 1359.70,621.60 1363.30,621.00 1366.00,623.40 1368.60,622.50 1371.00,615.30 1374.00,616.60 1376.70,617.10 1379.40,616.20 1382.90,621.00 1386.50,618.30 1389.20,618.70 1392.20,612.40 1395.40,619.20 1397.80,618.70 1399.90,622.80 1401.70,623.70 1404.40,633.20 1408.00,632.30 1410.60,633.50 1414.20,630.00 1419.60,631.80 1428.00,632.50 1435.70,633.00 1435.7,685.5" fill="#EFF2F5"/>
<g font-size="22" fill="#7C869B">
<text x="124.00" y="718.00" font-size="24" letter-spacing="-1.200" fill="#7C869B">2012</text>
<text x="303.80" y="718.00" font-size="24" letter-spacing="-1.200" fill="#7C869B">2014</text>
<text x="484.40" y="718.00" font-size="24" letter-spacing="-0.933" fill="#7C869B">2016</text>
<text x="666.00" y="718.00" font-size="24" letter-spacing="-0.933" fill="#7C869B">2018</text>
<text x="844.60" y="718.00" font-size="24" letter-spacing="-0.133" fill="#7C869B">2020</text>
<text x="1025.30" y="718.00" font-size="24" letter-spacing="-0.133" fill="#7C869B">2022</text>
<text x="1205.80" y="718.00" font-size="24" letter-spacing="-0.133" fill="#7C869B">2024</text>
<text x="1386.40" y="718.00" font-size="24" letter-spacing="0.133" fill="#7C869B">2026</text>
</g>
<rect x="1420" y="624.5" width="27.8" height="39" rx="13.9" fill="#fff" filter="url(#sh)"/>
<g stroke="#A6B0C3" stroke-width="2"><line x1="1430.8" y1="637" x2="1430.8" y2="651"/><line x1="1437" y1="637" x2="1437" y2="651"/></g>
</svg>
</body></html>
